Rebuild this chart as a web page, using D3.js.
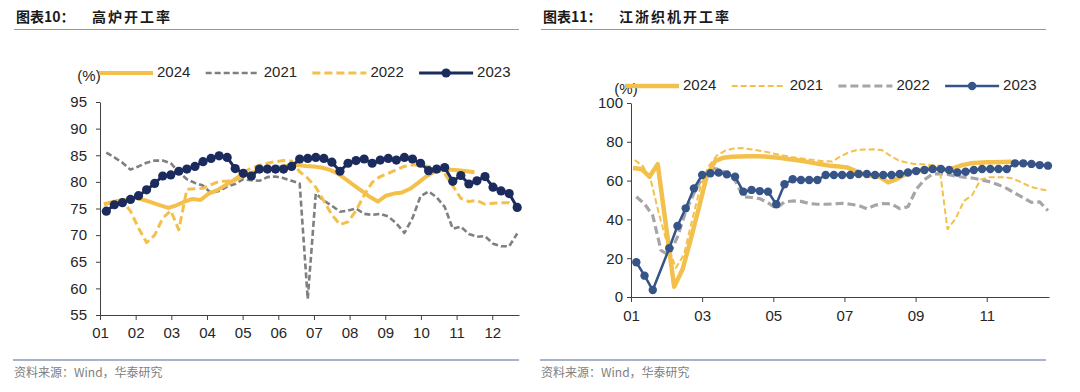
<!DOCTYPE html>
<html>
<head>
<meta charset="utf-8">
<script src="https://cdn.jsdelivr.net/npm/d3@7"></script>
<style>
  body { margin: 0; background: #fff; }
  svg { display: block; font-family: "Liberation Sans", Arial, sans-serif; }
  .title { font-family: "Noto Sans CJK SC", sans-serif; font-size: 14px; font-weight: bold; fill: #1a1a1a; }
  .source { font-family: "Noto Sans CJK SC", sans-serif; font-size: 12px; fill: #808080; }
  .axis text { font-size: 15px; fill: #262626; font-family: "Liberation Sans", Arial, sans-serif; }
  .axis path, .axis line { stroke: #404040; }
  .legend text, .unit { font-size: 15px; fill: #262626; }
</style>
</head>
<body>
<svg width="1080" height="392"></svg>
<script>
// month tick labels
var months = ["01", "02", "03", "04", "05", "06", "07", "08", "09", "10", "11", "12"];
var legendYears = ["2024", "2021", "2022", "2023"];

// blast furnace operating rate, weekly (%)
var furnace2024 = [75.8, 76.2, 76.5, 76.7, 77.0, 76.6, 76.1, 75.6, 75.1, 75.6, 76.3, 76.8, 76.6, 77.8, 78.4, 79.3,
  80.2, 80.9, 81.6, 82.0, 82.3, 82.5, 82.8, 83.1, 83.2, 83.0, 82.9, 82.7, 82.3, 81.6, 80.5, 79.4, 78.3, 77.2, 76.3,
  77.4, 77.8, 78.0, 78.7, 79.8, 81.0, 81.9, 82.2, 82.3, 82.2, 82.0, 81.8];
var furnace2021 = [85.5, 84.6, 83.6, 82.3, 82.9, 83.6, 84.0, 84.0, 83.5, 81.8, 80.5, 79.8, 79.3, 77.9, 78.3, 79.1,
  79.6, 80.5, 80.3, 80.2, 80.9, 81.0, 80.7, 80.2, 79.7, 58.0, 77.8, 76.5, 75.5, 74.4, 74.6, 75.0, 74.0, 73.8, 74.0,
  73.5, 72.2, 70.4, 73.2, 77.3, 78.2, 77.1, 75.3, 71.2, 71.6, 70.2, 69.7, 69.8, 68.4, 67.9, 67.9, 70.3];
var furnace2022 = [75.9, 76.2, 76.4, 74.5, 71.3, 68.6, 70.0, 73.2, 74.6, 71.0, 78.6, 78.7, 78.8, 79.5, 80.1, 80.1,
  80.6, 81.8, 82.6, 83.1, 83.5, 83.8, 84.0, 83.9, 81.9, 80.7, 79.0, 76.4, 73.8, 72.0, 72.5, 74.6, 77.5, 79.9, 81.0,
  81.6, 82.3, 82.9, 83.2, 83.1, 82.9, 82.7, 81.5, 79.3, 76.9, 76.3, 76.5, 75.8, 76.0, 76.1, 76.1, 75.5];
var furnace2023 = [74.5, 75.7, 76.1, 76.7, 77.4, 78.5, 79.7, 81.1, 81.3, 82.0, 82.4, 82.9, 83.8, 84.4, 84.9, 84.6,
  82.5, 81.6, 81.1, 82.4, 82.4, 82.4, 82.4, 82.9, 84.3, 84.4, 84.6, 84.4, 83.7, 82.0, 83.5, 84.0, 84.3, 83.5, 84.1,
  84.4, 84.1, 84.6, 84.3, 83.5, 82.1, 82.4, 82.7, 80.1, 81.2, 79.6, 80.2, 81.0, 79.0, 78.3, 77.8, 75.2];

// Jiangsu-Zhejiang loom operating rate, weekly (%), null = no reading
var loom2024 = [66.5, 66.0, 62.0, 68.5, null, 5.3, 14.0, 29.5, 46.0, 63.0, 70.2, 71.8, 72.3, 72.4, 72.5, 72.5,
  72.4, 72.0, 71.6, 71.0, 70.5, 69.8, 69.0, 68.3, 67.6, 67.3, 66.8, 65.0, 63.3, 62.5, 61.8, 59.1, 60.8, 63.0, 64.7,
  65.5, 66.3, 66.0, 65.5, 66.5, 68.0, 68.9, 69.2, 69.4, 69.5, 69.6, 69.7];
var loom2021 = [70.6, 67.5, 59.5, 42.0, 27.0, 15.0, 22.0, 40.0, 57.0, 67.5, 73.0, 75.5, 76.5, 76.8, 76.2, 75.5,
  74.8, 73.8, 73.0, 72.2, 71.6, 71.0, 70.5, 70.0, 69.8, 72.5, 74.5, 75.8, 76.0, 76.1, 75.8, 73.0, 70.5, 69.3, 68.6,
  68.4, 68.1, 67.7, 35.0, 40.5, 49.5, 52.5, 60.5, 61.7, 61.7, 61.7, 61.0, 59.0, 57.0, 55.8, 55.0];
var loom2022 = [51.7, 48.0, 42.0, 24.0, 21.5, 31.0, 44.0, 53.5, 61.5, 66.5, 65.8, 63.8, 60.0, 51.7, 51.3, 50.7,
  48.5, 45.7, 49.0, 49.5, 49.3, 48.2, 47.8, 47.8, 48.0, 48.3, 47.8, 47.2, 45.5, 47.3, 48.2, 48.0, 45.5, 46.5, 55.5,
  60.5, 63.5, 63.5, 63.0, 62.2, 61.6, 61.2, 60.3, 59.3, 57.8, 56.0, 53.5, 51.2, 48.8, 49.0, 44.5];
var loom2023 = [17.9, 11.0, 3.6, null, 25.1, 36.6, 45.7, 56.0, 62.9, 63.8, 64.1, 63.2, 62.0, 54.3, 55.2, 54.6,
  54.3, 47.8, 58.1, 60.7, 60.3, 60.3, 60.3, 62.9, 62.9, 62.9, 62.9, 63.4, 63.4, 62.9, 62.9, 62.9, 63.4, 64.2, 64.9,
  65.5, 66.0, 66.0, 65.5, 64.2, 64.6, 65.5, 66.0, 66.0, 66.0, 66.0, 68.9, 68.9, 68.6, 68.0, 67.7];
// week shift of each loom series against the 2023 weeks
var loomShift = { "2024": -0.4, "2021": -0.2, "2022": 0, "2023": 0 };

var YELLOW = "#F3C14B";
var svg = d3.select("svg");

var toPoints = function (values, shift) {
  return values
    .map(function (v, i) { return { w: i + shift, v: v }; })
    .filter(function (d) { return d.v !== null; });
};

var drawChart = function (cfg) {
  var g = svg.append("g");
  var x = d3.scaleLinear().domain([0, 11.75]).range([cfg.left, cfg.right]);
  var y = d3.scaleLinear().domain(cfg.yDomain).range([cfg.bottom, cfg.top]);
  var week = d3.scaleLinear().domain([0, cfg.lastWeek]).range(cfg.weekMonths);

  // title + rules
  g.append("text").attr("class", "title").attr("x", cfg.ox + 2).attr("y", 22).text(cfg.label);
  g.append("text").attr("class", "title").attr("x", cfg.ox + 78).attr("y", 22)
    .attr("letter-spacing", "2px").text(cfg.title);
  g.append("line").attr("x1", cfg.ox).attr("x2", cfg.ox + 505).attr("y1", 29.5).attr("y2", 29.5)
    .attr("stroke", "#8797BC").attr("stroke-width", 1.2);
  g.append("line").attr("x1", cfg.ox - 1).attr("x2", cfg.ox + 505).attr("y1", 360).attr("y2", 360)
    .attr("stroke", "#A7B3CB").attr("stroke-width", 2);
  g.append("text").attr("class", "source").attr("x", cfg.ox).attr("y", 377).text("资料来源：Wind，华泰研究");

  // axes
  g.append("g").attr("class", "axis")
    .attr("transform", "translate(" + cfg.left + ",0)")
    .call(d3.axisLeft(y).tickValues(cfg.yTicks).tickSize(4).tickSizeOuter(0).tickPadding(cfg.yPad));
  g.append("g").attr("class", "axis")
    .attr("transform", "translate(0," + cfg.bottom + ")")
    .call(d3.axisBottom(x).tickValues(cfg.xTicks).tickSize(5).tickSizeOuter(0).tickPadding(cfg.xPad)
      .tickFormat(function (m) { return months[m]; }));

  var line = d3.line()
    .x(function (d) { return x(week(d.w)); })
    .y(function (d) { return y(d.v); });

  cfg.series.forEach(function (s) {
    var pts = toPoints(s.values, s.shift);
    g.append("path").datum(pts)
      .attr("fill", "none")
      .attr("stroke", s.color)
      .attr("stroke-width", s.width)
      .attr("stroke-dasharray", s.dash || null)
      .attr("stroke-linejoin", "round")
      .attr("d", line);
    if (s.dot) {
      g.append("g").selectAll("circle").data(pts).enter().append("circle")
        .attr("cx", function (d) { return x(week(d.w)); })
        .attr("cy", function (d) { return y(d.v); })
        .attr("r", s.dot)
        .attr("fill", s.color);
    }
  });

  // unit + legend
  g.append("text").attr("class", "unit").attr("x", cfg.unitX).attr("y", cfg.legendY + 4)
    .attr("text-anchor", "middle").attr("dominant-baseline", "middle").text("(%)");
  var legend = g.append("g").attr("class", "legend");
  var entries = legend.selectAll("g").data(legendYears).enter().append("g")
    .attr("transform", function (name, i) {
      return "translate(" + (cfg.legendX + i * 106.7) + "," + cfg.legendY + ")";
    });
  entries.each(function (name) {
    var s = cfg.series.find(function (d) { return d.name === name; });
    var e = d3.select(this);
    e.append("line").attr("x1", 0).attr("x2", 54)
      .attr("stroke", s.color).attr("stroke-width", s.width)
      .attr("stroke-dasharray", s.dash || null);
    if (s.dot) e.append("circle").attr("cx", 27).attr("r", s.dot).attr("fill", s.color);
    e.append("text").attr("x", 58).attr("dominant-baseline", "middle").text(name);
  });
};

drawChart({
  ox: 14, label: "图表10：", title: "高炉开工率",
  left: 100, right: 519, top: 102, bottom: 315,
  yDomain: [55, 95], yTicks: d3.range(55, 96, 5), yPad: 9,
  xTicks: d3.range(0, 12), xPad: 7,
  lastWeek: 51, weekMonths: [0.177, 11.70],
  unitX: 89, legendX: 99, legendY: 73,
  series: [
    { name: "2021", values: furnace2021, shift: 0, color: "#7F7F7F", width: 2.6, dash: "6,3" },
    { name: "2022", values: furnace2022, shift: 0, color: YELLOW, width: 3, dash: "8,4" },
    { name: "2024", values: furnace2024, shift: -0.3, color: YELLOW, width: 4 },
    { name: "2023", values: furnace2023, shift: 0, color: "#1C2B5E", width: 3, dot: 4.6 }
  ]
});

drawChart({
  ox: 541, label: "图表11：", title: "江浙织机开工率",
  left: 631, right: 1049, top: 103, bottom: 297,
  yDomain: [0, 100], yTicks: d3.range(0, 101, 20), yPad: 4,
  xTicks: d3.range(0, 12, 2), xPad: 8,
  lastWeek: 50, weekMonths: [0.149, 11.72],
  unitX: 626, legendX: 625, legendY: 86,
  series: [
    { name: "2022", values: loom2022, shift: loomShift["2022"], color: "#A6A6A6", width: 3.2, dash: "8,4" },
    { name: "2021", values: loom2021, shift: loomShift["2021"], color: YELLOW, width: 2, dash: "6,3" },
    { name: "2024", values: loom2024, shift: loomShift["2024"], color: YELLOW, width: 4.5 },
    { name: "2023", values: loom2023, shift: loomShift["2023"], color: "#365488", width: 2.5, dot: 4.2 }
  ]
});
</script>
</body>
</html>
